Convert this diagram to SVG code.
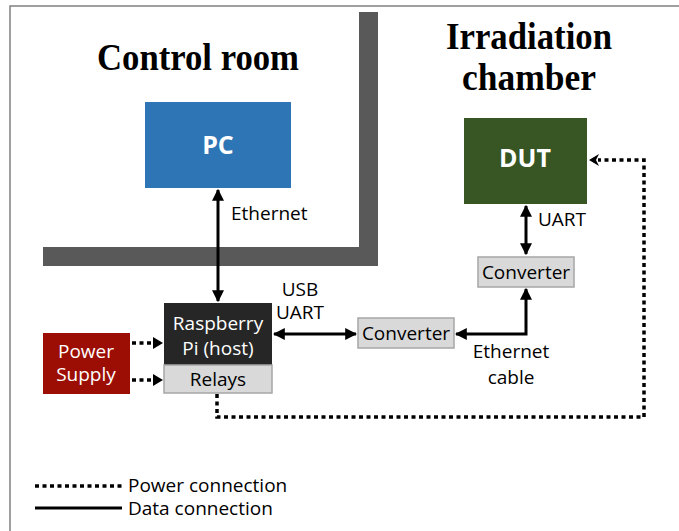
<svg xmlns="http://www.w3.org/2000/svg" width="679" height="531" viewBox="0 0 679 531">
<defs>
<marker id="ah" viewBox="0 0 10 10" refX="9" refY="5" markerWidth="4" markerHeight="4" orient="auto-start-reverse" markerUnits="strokeWidth">
<path d="M0,0 L10,5 L0,10 Z" fill="#000"/>
</marker>
</defs>
<style>
.t{font-family:"Open Sans","Noto Sans",sans-serif;font-size:19px;fill:#000}
.w{fill:#fff}
.b{font-weight:bold;font-size:25px}
.ti{font-family:"Liberation Serif","Times New Roman",serif;font-weight:bold;font-size:38px;fill:#000}
.data{fill:none;stroke:#000;stroke-width:3}
.pwr{fill:none;stroke:#000;stroke-width:3.5;stroke-dasharray:4 3.5}
.wall{fill:#595959}
.grey{fill:#d9d9d9;stroke:#a6a6a6;stroke-width:1.5}
</style>
<rect width="679" height="531" fill="#fff"/>
<path d="M10,531 V6 H679" fill="none" stroke="#808080" stroke-width="1.5"/>
<g id="walls">
<rect class="wall" x="359" y="12" width="19" height="254"/>
<rect class="wall" x="43" y="247" width="335" height="19"/>
</g>
<g id="titles">
<text class="ti" x="198" y="70" text-anchor="middle" textLength="202" lengthAdjust="spacingAndGlyphs">Control room</text>
<text class="ti" x="529" y="49" text-anchor="middle" textLength="166" lengthAdjust="spacingAndGlyphs">Irradiation</text>
<text class="ti" x="529" y="90" text-anchor="middle" textLength="134" lengthAdjust="spacingAndGlyphs">chamber</text>
</g>
<g id="connectors">
<path class="data" d="M218,301 V190" marker-start="url(#ah)" marker-end="url(#ah)"/>
<path class="data" d="M274,334 H356" marker-start="url(#ah)" marker-end="url(#ah)"/>
<path class="data" d="M456,334 H526 V289" marker-start="url(#ah)" marker-end="url(#ah)"/>
<path class="data" d="M526,206 V254" marker-start="url(#ah)" marker-end="url(#ah)"/>
<path class="pwr" d="M132,343 H155"/>
<path d="M153,337 L163,343 L153,349 Z" fill="#000"/>
<path class="pwr" d="M132,380 H155"/>
<path d="M153,374 L163,380 L153,386 Z" fill="#000"/>
<path class="pwr" d="M217,394 V417 H644 V160 H598"/>
<path d="M599,154 L589,160 L599,166 L596,160 Z" fill="#000"/>
</g>
<g id="labels">
<text class="t" x="231" y="220">Ethernet</text>
<text class="t" x="300" y="296" text-anchor="middle" font-size="17">USB</text>
<text class="t" x="300" y="319" text-anchor="middle" font-size="17">UART</text>
<text class="t" x="538" y="226" font-size="17">UART</text>
<text class="t" x="511" y="358" text-anchor="middle">Ethernet</text>
<text class="t" x="511" y="384" text-anchor="middle">cable</text>
</g>
<g id="pc">
<rect x="145" y="102" width="146" height="86" fill="#2e75b6"/>
<text class="t w b" x="218" y="154" text-anchor="middle">PC</text>
</g>
<g id="dut">
<rect x="464" y="118" width="123" height="86" fill="#375623"/>
<text class="t w b" x="525" y="167" text-anchor="middle">DUT</text>
</g>
<g id="raspberry-pi">
<rect x="164" y="303" width="108" height="62" fill="#262626"/>
<text class="t w" x="218" y="330" text-anchor="middle">Raspberry</text>
<text class="t w" x="218" y="355" text-anchor="middle">Pi (host)</text>
</g>
<g id="relays">
<rect class="grey" x="164" y="365" width="108" height="28"/>
<text class="t" x="218" y="386" text-anchor="middle">Relays</text>
</g>
<g id="power-supply">
<rect x="43" y="333" width="87" height="61" fill="#9c0e04"/>
<text class="t w" x="86" y="358" text-anchor="middle">Power</text>
<text class="t w" x="86" y="381" text-anchor="middle">Supply</text>
</g>
<g id="converter1">
<rect class="grey" x="358" y="318" width="96" height="30"/>
<text class="t" x="406" y="340" text-anchor="middle">Converter</text>
</g>
<g id="converter2">
<rect class="grey" x="478" y="257" width="96" height="30"/>
<text class="t" x="526" y="279" text-anchor="middle">Converter</text>
</g>
<g id="legend">
<path class="pwr" d="M35,486 H122"/>
<path class="data" d="M35,508 H122"/>
<text class="t" x="128" y="492">Power connection</text>
<text class="t" x="128" y="515">Data connection</text>
</g>
</svg>
